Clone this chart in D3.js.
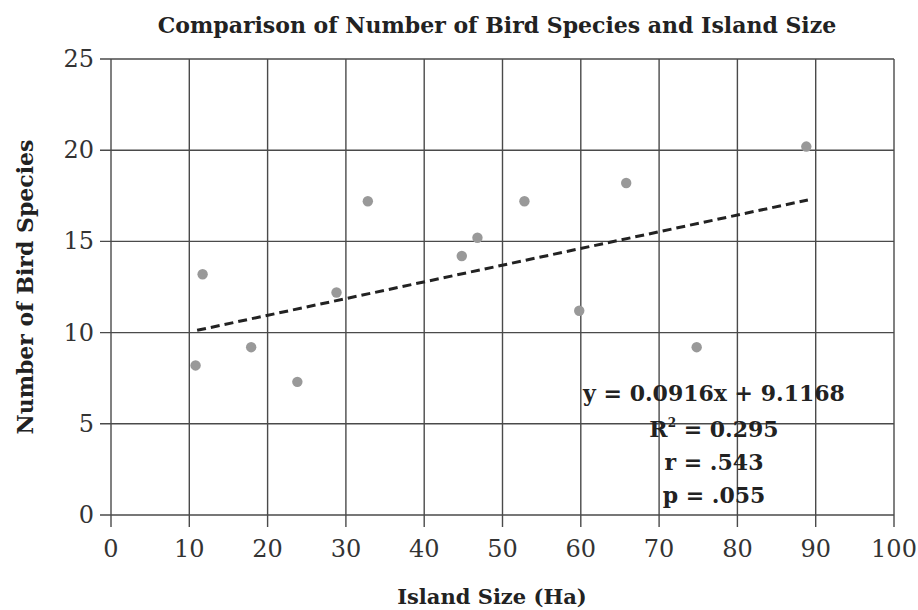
<!DOCTYPE html>
<html><head><meta charset="utf-8">
<script src="https://cdn.jsdelivr.net/npm/d3@7"></script>
<style>body{margin:0;background:#fff}svg{display:block}text{font-family:"DejaVu Serif","Liberation Serif",serif}</style>
</head><body><svg id="c" width="918" height="610"></svg>
<script>
const islandSize = [10.8, 11.7, 17.9, 23.8, 28.8, 32.8, 44.8, 46.8, 52.8, 59.8, 65.8, 74.8, 88.8];
const birdSpecies = [8.2, 13.2, 9.2, 7.3, 12.2, 17.2, 14.2, 15.2, 17.2, 11.2, 18.2, 9.2, 20.2];
const xTicks = [0,10,20,30,40,50,60,70,80,90,100];
const yTicks = [0,5,10,15,20,25];
const slope = 0.0916, intercept = 9.1168;
const trendX = [11, 89];
const statLines = ["y = 0.0916x + 9.1168", "R² = 0.295", "r = .543", "p = .055"];

const svg = d3.select("#c");
const x = d3.scaleLinear().domain([0,100]).range([111,894]);
const y = d3.scaleLinear().domain([0,25]).range([515,59]);
const gridCol = "#4a4a4a";

// grid
svg.append("g").selectAll("line").data(yTicks).join("line")
  .attr("x1",100).attr("x2",x(100)).attr("y1",d=>y(d)).attr("y2",d=>y(d))
  .attr("stroke",gridCol).attr("stroke-width",1.4);
svg.append("g").selectAll("line").data(xTicks).join("line")
  .attr("x1",d=>x(d)).attr("x2",d=>x(d)).attr("y1",y(25)).attr("y2",527)
  .attr("stroke",gridCol).attr("stroke-width",1.4);

// tick labels
svg.append("g").selectAll("text").data(yTicks).join("text")
  .attr("x",94).attr("y",d=>y(d)+8).attr("text-anchor","end")
  .attr("font-size",24).attr("fill","#333").text(d=>d);
svg.append("g").selectAll("text").data(xTicks).join("text")
  .attr("x",d=>x(d)).attr("y",557).attr("text-anchor","middle")
  .attr("font-size",24).attr("fill","#333").text(d=>d);

// points
svg.append("g").selectAll("circle").data(islandSize.map((v,i)=>[v,birdSpecies[i]])).join("circle")
  .attr("cx",d=>x(d[0])).attr("cy",d=>y(d[1])).attr("r",5.2).attr("fill","#999");

// trendline
svg.append("line")
  .attr("x1",x(trendX[0])).attr("y1",y(slope*trendX[0]+intercept))
  .attr("x2",x(trendX[1])).attr("y2",y(slope*trendX[1]+intercept))
  .attr("stroke","#222").attr("stroke-width",3).attr("stroke-dasharray","9,5");

// stats
const sy = [401, 437, 470, 503];
const fs = 22;
const st = svg.append("g");
st.append("text").attr("x",714).attr("y",sy[0]).attr("text-anchor","middle")
  .attr("font-size",fs).attr("font-weight","bold").attr("fill","#222").text(statLines[0]);
const r2 = st.append("text").attr("x",714).attr("y",sy[1]).attr("text-anchor","middle")
  .attr("font-size",fs).attr("font-weight","bold").attr("fill","#222");
r2.append("tspan").text("R");
r2.append("tspan").attr("font-size",12).attr("dy",-10).text("2");
r2.append("tspan").attr("dy",10).text(" = 0.295");
st.append("text").attr("x",714).attr("y",sy[2]).attr("text-anchor","middle")
  .attr("font-size",fs).attr("font-weight","bold").attr("fill","#222").text(statLines[2]);
st.append("text").attr("x",714).attr("y",sy[3]).attr("text-anchor","middle")
  .attr("font-size",fs).attr("font-weight","bold").attr("fill","#222").text(statLines[3]);

// titles
svg.append("text").attr("x",497).attr("y",33).attr("text-anchor","middle")
  .attr("font-size",22).attr("font-weight","bold").attr("fill","#222")
  .text("Comparison of Number of Bird Species and Island Size");
svg.append("text").attr("transform","translate(33,287) rotate(-90)").attr("text-anchor","middle")
  .attr("font-size",22).attr("font-weight","bold").attr("fill","#222")
  .text("Number of Bird Species");
svg.append("text").attr("x",492).attr("y",604).attr("text-anchor","middle")
  .attr("font-size",21).attr("font-weight","bold").attr("fill","#222")
  .text("Island Size (Ha)");
</script></body></html>
